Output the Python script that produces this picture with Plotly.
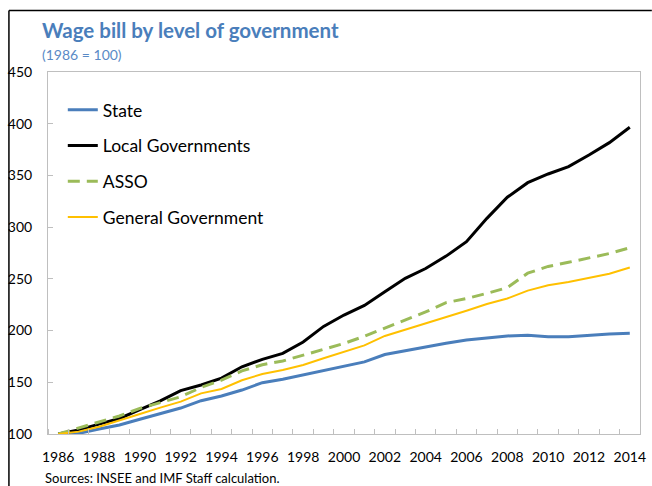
import plotly.graph_objects as go

years = list(range(1986, 2015))

state = [100, 100.6, 104.8, 108.7, 114.2, 119.3, 125.1, 132.2, 136.7, 142.5,
         149.6, 152.9, 157.0, 161.2, 165.5, 169.7, 176.8, 180.6, 183.8, 187.7,
         190.9, 193.0, 194.8, 195.4, 194.0, 194.0, 195.4, 196.7, 197.4]
local_gov = [100, 104.0, 109.5, 115.0, 123.5, 132.0, 142.0, 147.4, 154.0, 165.0,
             172.2, 178.0, 189.0, 204.0, 215.0, 224.3, 237.6, 250.5, 260.0, 272.0,
             286.0, 308.5, 328.9, 343.0, 351.4, 358.5, 369.8, 381.7, 396.6]
asso = [100, 105.5, 111.6, 117.4, 124.8, 130.3, 136.0, 145.0, 152.0, 161.0,
        167.0, 170.6, 176.0, 182.0, 187.5, 194.5, 202.5, 210.5, 218.0, 227.0,
        231.0, 236.0, 241.5, 255.5, 262.0, 266.0, 270.5, 274.5, 280.0]
general_gov = [100, 102.3, 107.0, 112.9, 119.3, 125.5, 131.3, 139.3, 143.5, 152.0,
               158.0, 161.9, 166.7, 173.2, 179.3, 185.7, 194.8, 200.9, 206.4, 212.8,
               219.2, 225.7, 231.0, 238.6, 243.8, 247.0, 251.0, 255.0, 261.0]

x_ticks = list(range(1986, 2015, 2))
y_ticks = list(range(100, 451, 50))

FONT = "Lato"
AXIS_GREY = "#BFBFBF"

fig = go.Figure()
series = [
    ("State", state, dict(color="#4A7EBB", width=3)),
    ("Local Governments", local_gov, dict(color="#000000", width=3)),
    ("ASSO", asso, dict(color="#9BBB59", width=3, dash="12px,7px")),
    ("General Government", general_gov, dict(color="#FFC000", width=2)),
]
for i, (name, vals, line) in enumerate(series):
    fig.add_trace(go.Scatter(x=years, y=vals, name=name, mode="lines",
                             line=line, legendgroup=f"g{i}"))

fig.update_layout(
    width=652, height=486,
    margin=dict(l=48, r=6, t=72, b=52),
    paper_bgcolor="white", plot_bgcolor="white",
    font=dict(family=FONT, size=14, color="#000000"),
    showlegend=True,
    legend=dict(x=0.025, y=0.945, xanchor="left", yanchor="top",
                font=dict(family=FONT, size=17.5, color="#000000"),
                bgcolor="rgba(0,0,0,0)", tracegroupgap=10),
    xaxis=dict(range=[1985.5, 2014.5], tickmode="array", tickvals=x_ticks,
               ticks="", showgrid=False, zeroline=False,
               showline=True, linecolor=AXIS_GREY, linewidth=1, mirror=True,
               tickfont=dict(family=FONT, size=14), ticklabelstandoff=10,
               minor=dict(tick0=1985.5, dtick=1, ticks="inside", ticklen=5,
                          tickcolor=AXIS_GREY, showgrid=False)),
    yaxis=dict(range=[100, 450], tickmode="array", tickvals=y_ticks,
               ticks="inside", ticklen=5, tickcolor=AXIS_GREY,
               showgrid=False, zeroline=False,
               showline=True, linecolor=AXIS_GREY, linewidth=1, mirror=True,
               tickfont=dict(family=FONT, size=14), ticklabelstandoff=12),
)

fig.add_annotation(text="<b>Wage bill by level of government</b>",
                   xref="paper", yref="paper", x=-0.013, y=1.116,
                   xanchor="left", yanchor="middle", showarrow=False,
                   font=dict(family=FONT, size=20.5, color="#4A7EBB"))
fig.add_annotation(text="(1986 = 100)",
                   xref="paper", yref="paper", x=-0.013, y=1.047,
                   xanchor="left", yanchor="middle", showarrow=False,
                   font=dict(family=FONT, size=14, color="#5A8AC6"))
fig.add_annotation(text="Sources: INSEE and IMF Staff calculation.",
                   xref="paper", yref="paper", x=-0.008, y=-0.122,
                   xanchor="left", yanchor="middle", showarrow=False,
                   font=dict(family=FONT, size=13, color="#000000"))

# outer frame edges
fig.add_shape(type="line", xref="paper", yref="paper",
              x0=-0.066, x1=1.02, y0=1.17, y1=1.17,
              line=dict(color="black", width=1.5))
fig.add_shape(type="line", xref="paper", yref="paper",
              x0=-0.066, x1=-0.066, y0=1.17, y1=-0.2,
              line=dict(color="black", width=1.5))

fig.write_html("out.html")
